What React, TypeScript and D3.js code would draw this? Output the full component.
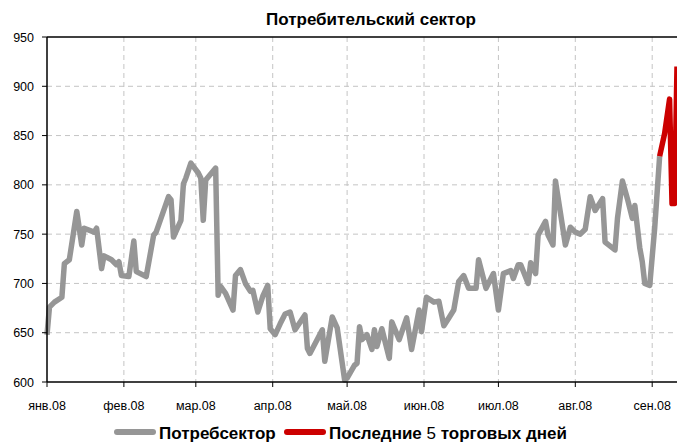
import React from "react";
import * as d3 from "d3";

const chartTitle = "Потребительский сектор";

// gray series, dates
const seriesDates = [
  "2008-01-01", "2008-01-02", "2008-01-04", "2008-01-07", "2008-01-08", "2008-01-10",
  "2008-01-13", "2008-01-15", "2008-01-16", "2008-01-20", "2008-01-21", "2008-01-23",
  "2008-01-24", "2008-01-27", "2008-01-29", "2008-01-30", "2008-01-31", "2008-02-03",
  "2008-02-05", "2008-02-06", "2008-02-10", "2008-02-13", "2008-02-14", "2008-02-19",
  "2008-02-20", "2008-02-21", "2008-02-24", "2008-02-25", "2008-02-26", "2008-02-28",
  "2008-03-02", "2008-03-03", "2008-03-04", "2008-03-05", "2008-03-09", "2008-03-10",
  "2008-03-11", "2008-03-13", "2008-03-16", "2008-03-17", "2008-03-19", "2008-03-21",
  "2008-03-23", "2008-03-24", "2008-03-26", "2008-03-28", "2008-03-30", "2008-03-31",
  "2008-04-02", "2008-04-04", "2008-04-06", "2008-04-08", "2008-04-10", "2008-04-14",
  "2008-04-15", "2008-04-16", "2008-04-21", "2008-04-22", "2008-04-25", "2008-04-27",
  "2008-04-30", "2008-05-01", "2008-05-04", "2008-05-05", "2008-05-06", "2008-05-07",
  "2008-05-09", "2008-05-11", "2008-05-12", "2008-05-13", "2008-05-15", "2008-05-18",
  "2008-05-19", "2008-05-22", "2008-05-25", "2008-05-27", "2008-05-30", "2008-05-31",
  "2008-06-02", "2008-06-05", "2008-06-07", "2008-06-09", "2008-06-11", "2008-06-13",
  "2008-06-15", "2008-06-17", "2008-06-19", "2008-06-22", "2008-06-23", "2008-06-26",
  "2008-06-29", "2008-07-01", "2008-07-03", "2008-07-06", "2008-07-07", "2008-07-09",
  "2008-07-10", "2008-07-13", "2008-07-14", "2008-07-16", "2008-07-17", "2008-07-20",
  "2008-07-21", "2008-07-23", "2008-07-24", "2008-07-28", "2008-07-30", "2008-08-01",
  "2008-08-03", "2008-08-05", "2008-08-07", "2008-08-09", "2008-08-12", "2008-08-13",
  "2008-08-17", "2008-08-18", "2008-08-20", "2008-08-22", "2008-08-24", "2008-08-25",
  "2008-08-27", "2008-08-28", "2008-08-29", "2008-08-31", "2008-09-02", "2008-09-04",
];
const seriesValues = [
  648, 676, 681, 686, 720, 724,
  773, 739, 756, 752, 756, 715,
  728, 724, 719, 722, 708, 707,
  743, 712, 707, 749, 752, 788,
  785, 747, 764, 801, 807, 822,
  812, 807, 764, 805, 817, 688,
  697, 690, 673, 708, 714, 700,
  692, 693, 671, 687, 698, 654,
  648, 659, 669, 671, 653, 668,
  634, 629, 653, 621, 666, 655,
  602, 604, 617, 619, 656, 643,
  648, 633, 653, 636, 654, 624,
  661, 643, 665, 633, 673, 651,
  686, 681, 682, 657, 665, 673,
  702, 708, 695, 695, 724, 695,
  710, 673, 710, 713, 705, 719,
  719, 700, 721, 710, 749, 763,
  749, 739, 804, 739, 757, 752,
  750, 755, 788, 774, 786, 742,
  734, 766, 804, 786, 766, 779,
  736, 722, 700, 698, 756, 829,
];

// red series: last 5 trading days
const lastDates = ["2008-09-04", "2008-09-06", "2008-09-08", "2008-09-09", "2008-09-10", "2008-09-11"];
const lastValues = [829, 852, 887, 781, 781, 920];

const yTicks = [600, 650, 700, 750, 800, 850, 900, 950];
const monthTicks = [
  "2008-01-01", "2008-02-01", "2008-03-01", "2008-04-01", "2008-05-01",
  "2008-06-01", "2008-07-01", "2008-08-01", "2008-09-01",
];
const monthLabels = ["янв.08", "фев.08", "мар.08", "апр.08", "май.08", "июн.08", "июл.08", "авг.08", "сен.08"];
const legendLabels = ["Потребсектор", "Последние ", "5", " торговых дней"];

const GRAY = "#969696";
const RED = "#CC0000";
const FONT = "'Liberation Sans', Arial, sans-serif";

export default function App() {
  const width = 677;
  const height = 443;
  const left = 47;
  const right = 677;
  const top = 37;
  const bottom = 382;

  const parse = d3.timeParse("%Y-%m-%d");
  const x = d3
    .scaleTime()
    .domain([parse("2008-01-01")!, parse("2008-09-11")!])
    .range([left, right]);
  const y = d3.scaleLinear().domain([600, 950]).range([bottom, top]);

  const line = d3
    .line<[string, number]>()
    .x((d) => x(parse(d[0])!))
    .y((d) => y(d[1]));

  const grayPts = seriesDates.map((d, i) => [d, seriesValues[i]] as [string, number]);
  const redPts = lastDates.map((d, i) => [d, lastValues[i]] as [string, number]);

  return (
    <svg
      width={width}
      height={height}
      style={{ position: "absolute", left: 0, top: 0, background: "#fff" }}
      fontFamily={FONT}
    >
      <text x={371} y={25} textAnchor="middle" fontSize={17} fontWeight="bold">
        {chartTitle}
      </text>

      {/* gridlines */}
      {yTicks.slice(1, -1).map((t) => (
        <line key={"h" + t} x1={left} x2={right} y1={y(t)} y2={y(t)} stroke="#c4c4c4" strokeDasharray="5,4" />
      ))}
      {monthTicks.slice(1).map((m) => (
        <line
          key={"v" + m}
          x1={x(parse(m)!)}
          x2={x(parse(m)!)}
          y1={top}
          y2={bottom}
          stroke="#c4c4c4"
          strokeDasharray="5,4"
        />
      ))}

      <path d={line(grayPts)!} fill="none" stroke={GRAY} strokeWidth={5.5} strokeLinejoin="round" />
      <path d={line(redPts)!} fill="none" stroke={RED} strokeWidth={5.5} strokeLinejoin="round" />

      {/* axes */}
      <line x1={left} x2={right} y1={top} y2={top} stroke="#000" strokeWidth={1.5} />
      <line x1={left} x2={right} y1={bottom} y2={bottom} stroke="#000" strokeWidth={1.5} />
      <line x1={left} x2={left} y1={top} y2={bottom} stroke="#000" strokeWidth={1.5} />
      {yTicks.map((t) => (
        <g key={"yt" + t}>
          <line x1={left - 5} x2={left} y1={y(t)} y2={y(t)} stroke="#000" />
          <text x={34} y={y(t) + 4.5} textAnchor="end" fontSize={12.5}>
            {t}
          </text>
        </g>
      ))}
      {monthTicks.map((m, i) => (
        <g key={"xt" + m}>
          <line x1={x(parse(m)!)} x2={x(parse(m)!)} y1={bottom} y2={bottom + 5} stroke="#000" />
          <text x={x(parse(m)!)} y={410} textAnchor="middle" fontSize={12.5}>
            {monthLabels[i]}
          </text>
        </g>
      ))}

      {/* legend */}
      <line x1={117} x2={153} y1={432} y2={432} stroke={GRAY} strokeWidth={6} strokeLinecap="round" />
      <text x={159} y={439} fontSize={17} fontWeight="bold">
        {legendLabels[0]}
      </text>
      <line x1={287} x2={323} y1={432} y2={432} stroke={RED} strokeWidth={6} strokeLinecap="round" />
      <text x={329} y={439} fontSize={17} fontWeight="bold">
        {legendLabels[1]}
        <tspan fontWeight="normal">{legendLabels[2]}</tspan>
        {legendLabels[3]}
      </text>
    </svg>
  );
}
